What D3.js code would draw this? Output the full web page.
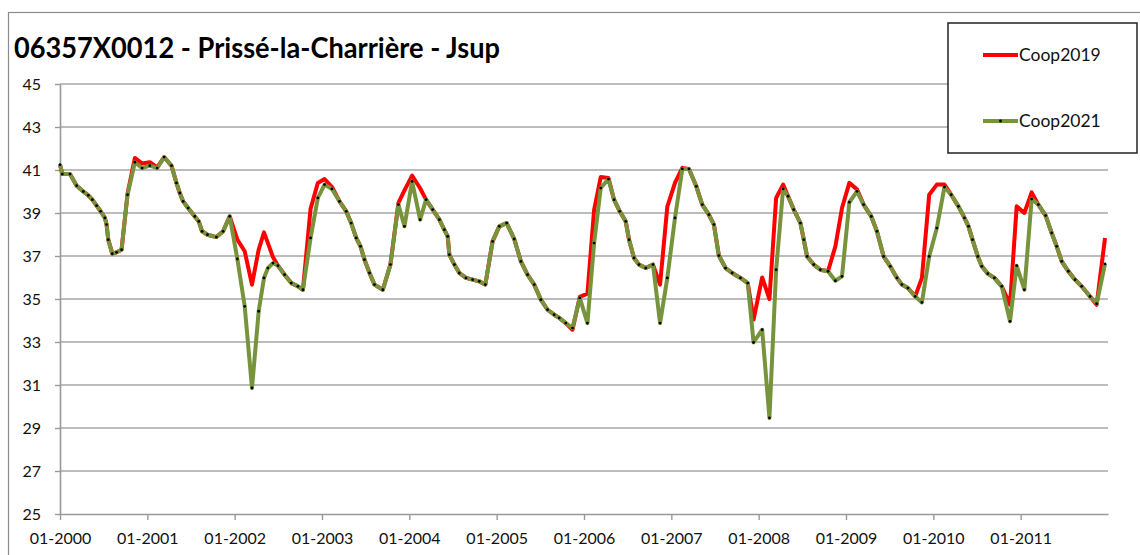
<!DOCTYPE html>
<html><head><meta charset="utf-8">
<script src="https://cdn.jsdelivr.net/npm/d3@7"></script>
<style>body{margin:0;background:#fff}svg{display:block}</style>
</head><body>
<script>
const title = "06357X0012 - Prissé-la-Charrière - Jsup";
const seriesNames = ["Coop2019", "Coop2021"];
const xTickLabels = ["01-2000","01-2001","01-2002","01-2003","01-2004","01-2005","01-2006","01-2007","01-2008","01-2009","01-2010","01-2011"];
const yTicks = [25,27,29,31,33,35,37,39,41,43,45];
// month offset from 01-2000
const months = [0,0.32,1.37,2.29,3.2,3.89,4.44,5.03,5.58,6.17,6.4,6.63,7.18,7.77,8.46,9.28,10.29,11.29,12.34,13.35,14.31,15.32,16.0,16.46,16.92,17.6,18.52,19.07,19.52,20.26,21.49,22.41,23.32,24.37,25.38,26.38,27.3,28.03,28.57,29.26,29.95,30.86,31.78,32.69,33.38,34.43,35.43,36.35,37.36,38.41,39.33,40.01,40.7,41.29,41.84,42.53,43.21,44.36,45.4,46.5,47.33,48.38,49.48,50.3,51.21,52.13,52.81,53.27,53.5,54.19,54.87,55.78,56.7,57.61,58.44,59.44,60.36,61.37,62.41,63.33,64.24,65.16,66.07,66.99,67.9,68.59,69.5,70.42,71.42,72.47,73.39,74.3,75.36,76.13,76.91,77.73,78.19,78.87,79.56,80.48,81.48,82.45,83.45,84.5,85.51,86.42,87.43,88.25,89.16,89.85,90.53,91.45,92.36,93.5,94.5,95.3,96.48,97.48,98.4,99.36,100.04,100.82,101.74,102.2,102.65,103.57,104.48,105.53,106.54,107.45,108.46,109.51,110.42,111.47,112.25,113.17,114.08,115.0,115.68,116.51,117.51,118.43,119.43,120.48,121.53,122.45,123.45,124.28,124.83,125.38,126.11,126.66,127.48,128.39,129.4,130.54,131.45,132.51,133.51,134.43,135.43,136.26,136.95,137.64,138.55,139.47,140.38,141.53,142.44,143.59];
const coop2021 = [41.25,40.81,40.81,40.27,40.0,39.82,39.62,39.34,39.08,38.77,38.46,37.76,37.11,37.17,37.29,39.85,41.36,41.09,41.2,41.09,41.6,41.2,40.4,39.93,39.54,39.23,38.84,38.61,38.15,37.99,37.88,38.15,38.84,36.86,34.66,30.86,34.43,35.98,36.44,36.67,36.55,36.13,35.74,35.59,35.43,37.84,39.7,40.32,40.12,39.54,39.08,38.53,37.84,37.45,36.83,36.21,35.67,35.43,36.6,39.39,38.38,40.47,38.69,39.62,39.16,38.69,38.22,37.91,37.06,36.6,36.21,35.98,35.9,35.82,35.67,37.68,38.38,38.53,37.79,36.75,36.13,35.67,34.97,34.5,34.27,34.12,33.88,33.65,35.05,33.88,37.6,40.16,40.58,39.62,39.08,38.61,37.76,36.91,36.6,36.44,36.6,33.88,35.98,38.77,41.05,41.05,40.24,39.39,38.92,38.46,37.02,36.44,36.21,35.98,35.74,32.98,33.57,29.47,36.36,40.12,39.78,39.16,38.53,37.76,36.98,36.6,36.36,36.29,35.85,36.05,39.5,40.01,39.39,38.84,38.15,36.98,36.52,35.98,35.67,35.51,35.12,34.84,36.98,38.3,40.21,39.85,39.31,38.77,38.38,37.76,36.98,36.52,36.18,35.98,35.59,33.96,36.55,35.43,39.65,39.39,38.88,38.07,37.45,36.75,36.29,35.9,35.59,35.12,34.78,36.63];
const coop2019 = [41.25,40.81,40.81,40.27,40.0,39.82,39.62,39.34,39.08,38.77,38.46,37.76,37.11,37.17,37.29,39.9,41.56,41.3,41.36,41.12,41.6,41.2,40.4,39.93,39.54,39.23,38.84,38.61,38.15,37.99,37.88,38.15,38.84,37.76,37.22,35.67,37.3,38.1,37.6,36.95,36.55,36.13,35.74,35.59,35.43,39.2,40.4,40.58,40.22,39.54,39.08,38.53,37.84,37.45,36.83,36.21,35.67,35.43,36.6,39.47,40.05,40.74,40.15,39.62,39.16,38.69,38.22,37.91,37.06,36.6,36.21,35.98,35.9,35.82,35.67,37.68,38.38,38.53,37.79,36.75,36.13,35.67,34.97,34.5,34.27,34.12,33.88,33.57,35.1,35.25,39.15,40.67,40.63,39.62,39.08,38.61,37.76,36.91,36.6,36.44,36.6,35.67,39.3,40.4,41.1,41.05,40.24,39.39,38.92,38.46,37.02,36.44,36.21,35.98,35.74,34.04,36.0,35.0,39.7,40.32,39.78,39.16,38.53,37.76,36.98,36.6,36.36,36.29,37.45,39.23,40.4,40.1,39.39,38.84,38.15,36.98,36.52,35.98,35.67,35.51,35.12,35.98,39.85,40.32,40.32,39.85,39.31,38.77,38.38,37.76,36.98,36.52,36.18,35.98,35.59,34.74,39.31,39.0,39.96,39.39,38.88,38.07,37.45,36.75,36.29,35.9,35.59,35.12,34.73,37.84];

const W = 1140, H = 555;
const svg = d3.select("body").append("svg").attr("width", W).attr("height", H);
const font = "Lato, 'Open Sans', sans-serif";

// outer chart border
svg.append("rect").attr("x", 8.5).attr("y", 12.5).attr("width", W + 20).attr("height", H + 20)
  .attr("fill", "none").attr("stroke", "#8c8c8c").attr("stroke-width", 1.2);

const x = d3.scaleLinear().domain([0, 144]).range([60, 1108]);
const y = d3.scaleLinear().domain([25, 45]).range([514, 84]);

// gridlines
svg.append("g").selectAll("line").data(yTicks.slice(1)).join("line")
  .attr("x1", x(0)).attr("x2", x(144)).attr("y1", d => y(d)).attr("y2", d => y(d))
  .attr("stroke", "#a6a6a6").attr("stroke-width", 1.6);

// y axis
const yAxis = svg.append("g").attr("transform", `translate(${x(0)},0)`)
  .call(d3.axisLeft(y).tickValues(yTicks).tickSize(5).tickSizeOuter(0).tickPadding(14));
yAxis.select(".domain").attr("stroke", "#999").attr("stroke-width", 1.6);
yAxis.selectAll(".tick line").attr("stroke", "#999").attr("stroke-width", 1.4);
yAxis.selectAll("text").attr("font-family", font).attr("font-size", 16).attr("fill", "#111");

// x axis
const xAxis = svg.append("g").attr("transform", `translate(0,${y(25)})`)
  .call(d3.axisBottom(x).tickValues(xTickLabels.map((d, i) => i * 12)).tickFormat((d, i) => xTickLabels[i]).tickSize(6).tickSizeOuter(0).tickPadding(13));
xAxis.select(".domain").attr("stroke", "#999").attr("stroke-width", 1.6);
xAxis.selectAll(".tick line").attr("stroke", "#999").attr("stroke-width", 1.4);
xAxis.selectAll("text").attr("font-family", font).attr("font-size", 16).attr("fill", "#111");

const line = d3.line().x(d => x(d[0])).y(d => y(d[1]));
const red = months.map((m, i) => [m, coop2019[i]]);
const green = months.map((m, i) => [m, coop2021[i]]);

svg.append("path").attr("d", line(red)).attr("fill", "none").attr("stroke", "#ff0000")
  .attr("stroke-width", 4).attr("stroke-linejoin", "round");
svg.append("path").attr("d", line(green)).attr("fill", "none").attr("stroke", "#77933c")
  .attr("stroke-width", 4).attr("stroke-linejoin", "round");
svg.append("g").selectAll("circle").data(green).join("circle")
  .attr("cx", d => x(d[0])).attr("cy", d => y(d[1])).attr("r", 1.4).attr("fill", "#000");

// title
svg.append("text").attr("x", 14).attr("y", 58).text(title)
  .attr("font-family", font).attr("font-weight", "bold").attr("font-size", 29)
  .attr("textLength", 486).attr("lengthAdjust", "spacingAndGlyphs").attr("fill", "#000");

// legend
const lg = svg.append("g");
lg.append("rect").attr("x", 948).attr("y", 23).attr("width", 189).attr("height", 130)
  .attr("fill", "#fff").attr("stroke", "#222").attr("stroke-width", 1.5);
const items = [{name: seriesNames[0], color: "#ff0000", yy: 55, dot: false},
               {name: seriesNames[1], color: "#77933c", yy: 121, dot: true}];
items.forEach(it => {
  lg.append("line").attr("x1", 983).attr("x2", 1018).attr("y1", it.yy).attr("y2", it.yy)
    .attr("stroke", it.color).attr("stroke-width", 4);
  if (it.dot) lg.append("circle").attr("cx", 1000.5).attr("cy", it.yy).attr("r", 1.4).attr("fill", "#000");
  lg.append("text").attr("x", 1019).attr("y", it.yy + 6).text(it.name)
    .attr("font-family", font).attr("font-size", 17.5).attr("fill", "#111");
});
</script>
</body></html>
